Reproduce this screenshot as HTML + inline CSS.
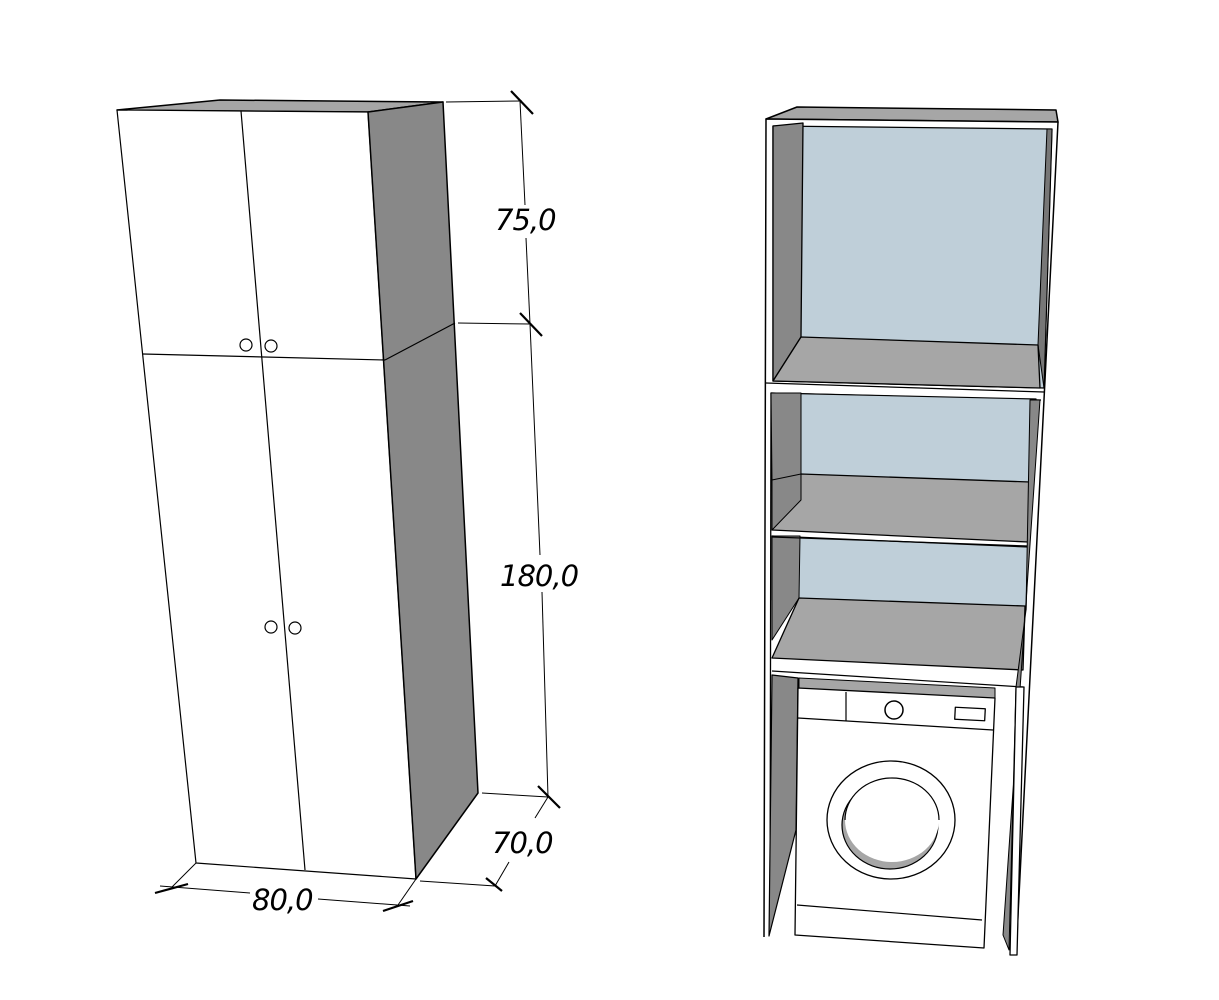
<!DOCTYPE html>
<html><head><style>html,body{margin:0;padding:0;background:#fff}svg{display:block}</style></head><body>
<svg width="1219" height="1000" viewBox="0 0 1219 1000" xmlns="http://www.w3.org/2000/svg" stroke="#000" stroke-linejoin="round">
<!-- LEFT CABINET -->
<polygon points="117,110 220,100 443,102 368,112" fill="#a6a6a6" stroke-width="1.5"/>
<polygon points="117,110 368,112 416,879 196,863" fill="#fff" stroke-width="1.2"/>
<polygon points="368,112 443,102 478,793 416,879" fill="#888" stroke-width="1.5"/>
<line x1="385" y1="360" x2="455" y2="323" stroke-width="1.2"/>
<line x1="143" y1="354" x2="385" y2="360" stroke-width="1.2"/>
<line x1="241" y1="111" x2="305" y2="870" stroke-width="1.2"/>
<g fill="#fff" stroke-width="1.2">
<circle cx="246" cy="345" r="6"/><circle cx="271" cy="346" r="6"/>
<circle cx="271" cy="627" r="6"/><circle cx="295" cy="628" r="6"/>
</g>
<!-- dimensions -->
<g stroke-width="1" fill="none">
<line x1="446" y1="102" x2="522" y2="101"/>
<line x1="458" y1="323" x2="530" y2="324"/>
<line x1="482" y1="793" x2="548" y2="797"/>
<line x1="520" y1="101" x2="525" y2="205"/>
<line x1="526" y1="238" x2="530" y2="324"/>
<line x1="530" y1="324" x2="540" y2="555"/>
<line x1="542" y1="592" x2="548" y2="797"/>
<line x1="420" y1="881" x2="495" y2="886"/>
<line x1="548" y1="797" x2="535" y2="818"/>
<line x1="509" y1="862" x2="495" y2="886"/>
<line x1="196" y1="863" x2="172" y2="887"/>
<line x1="416" y1="879" x2="398" y2="905"/>
<line x1="160" y1="886" x2="250" y2="893"/>
<line x1="318" y1="899" x2="410" y2="906"/>
</g>
<g stroke-width="2.2">
<line x1="511" y1="91" x2="533" y2="114"/>
<line x1="520" y1="313" x2="542" y2="336"/>
<line x1="538" y1="786" x2="560" y2="808"/>
<line x1="486" y1="878" x2="502" y2="891"/>
<line x1="155" y1="893" x2="188" y2="884"/>
<line x1="383" y1="911" x2="413" y2="901"/>
</g>
<g font-family="DejaVu Sans, sans-serif" font-style="italic" font-size="29" fill="#000" stroke="none" letter-spacing="-1">
<text x="495" y="230">75,0</text>
<text x="500" y="586">180,0</text>
<text x="492" y="853">70,0</text>
<text x="252" y="910">80,0</text>
</g>
<!-- RIGHT UNIT -->
<polygon points="766,119 797,107 1056,110 1058,122" fill="#a6a6a6" stroke-width="1.5"/>
<polygon points="766,119 1058,122 1013,955 764,937" fill="#fff" stroke="none"/>
<polyline points="764,937 766,119 1058,122 1016,955" fill="none" stroke-width="1.5"/>
<!-- upper box -->
<polygon points="773,126 1052,129 1044,388 773,381" fill="#bfcfd9" stroke-width="1.3"/>
<polygon points="773,126 803,123 801,337 773,381" fill="#888" stroke-width="1.3"/>
<polygon points="1047,129 1052,129 1044,388 1038,345" fill="#777" stroke-width="1"/>
<polygon points="773,381 801,337 1038,345 1040,388" fill="#a6a6a6" stroke-width="1.3"/>
<line x1="766" y1="383" x2="1044" y2="392" stroke-width="1.2"/>
<!-- lower box -->
<polygon points="771,393 1041,400 1003,935 768,930" fill="#fff" stroke="none"/>
<polyline points="770,930 771,393 1041,400" fill="none" stroke-width="1.3"/>
<polygon points="771,393 1036,399 1030,490 772,480" fill="#bfcfd9" stroke-width="1.2"/>
<polygon points="771,393 801,393 801,480 772,480" fill="#888" stroke-width="1"/>
<polygon points="772,530 801,474 1030,482 1028,542" fill="#a6a6a6" stroke-width="1.3"/>
<polygon points="772,480 801,474 801,500 772,530" fill="#888" stroke-width="1"/>
<polygon points="772,536 1028,547 1026,610 772,600" fill="#bfcfd9" stroke-width="1.2"/>
<polygon points="772,536 800,536 799,598 772,640" fill="#888" stroke-width="1"/>
<polygon points="772,658 799,598 1025,606 1023,670" fill="#a6a6a6" stroke-width="1.3"/>
<line x1="772" y1="537" x2="1028" y2="546" stroke-width="1.2"/>
<line x1="772" y1="671" x2="1023" y2="687" stroke-width="1.2"/>
<polygon points="1030,400 1040,400 1003,935 1009,950 1016,687 1026,610" fill="#888" stroke-width="1"/>
<!-- washer area -->
<polygon points="772,675 798,678 796,830 769,936" fill="#888" stroke-width="1.2"/>
<polygon points="799,678 995,688 995,700 799,690" fill="#a6a6a6" stroke-width="1"/>
<polygon points="798,688 995,698 984,948 795,935" fill="#fff" stroke-width="1.3"/>
<line x1="798" y1="718" x2="993" y2="730" stroke-width="1.2"/>
<line x1="846" y1="692" x2="846" y2="721" stroke-width="1.2"/>
<circle cx="894" cy="710" r="9" fill="#fff" stroke-width="1.5"/>
<rect x="955" y="708" width="30" height="12" fill="#fff" stroke-width="1.3" transform="rotate(3 970 714)"/>
<line x1="797" y1="905" x2="982" y2="920" stroke-width="1.2"/>
<ellipse cx="891" cy="820" rx="64" ry="59" fill="#fff" stroke-width="1.3"/>
<ellipse cx="890" cy="825" rx="48" ry="44" fill="#a6a6a6" stroke-width="1.2"/>
<ellipse cx="892" cy="820" rx="47" ry="42" fill="#fff" stroke="none"/>
<path d="M845,820 A47,42 0 0 1 939,820" fill="none" stroke-width="1.2"/>
<polygon points="1016,687 1024,687 1017,955 1010,955" fill="#fff" stroke-width="1.3"/>
</svg>
</body></html>
